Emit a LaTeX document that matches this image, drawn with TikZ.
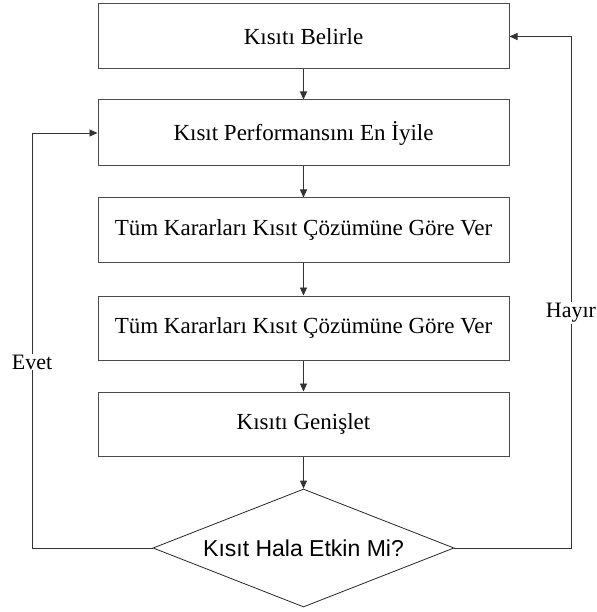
\documentclass[tikz,border=0pt]{standalone}
\usepackage{fontspec}
\setmainfont{Liberation Serif}
\newfontfamily\diafont{Liberation Sans}
\usetikzlibrary{shapes.geometric,arrows.meta}
\tikzset{
  stepbox/.style={draw=black!70, line width=1pt, minimum width=411pt,
    minimum height=64pt, inner sep=0pt, font=\fontsize{23}{27}\selectfont},
  decision/.style={diamond, draw=black!85, line width=0.8pt, aspect=2.55,
    minimum width=301pt, minimum height=118pt, inner sep=0pt,
    font=\diafont\fontsize{23}{27}\selectfont},
  flow/.style={draw=black!80, line width=0.9pt, -{Triangle[length=8pt,width=7pt]}},
  answer/.style={fill=white, inner sep=1pt, font=\fontsize{22}{26}\selectfont}
}
\begin{document}
\begin{tikzpicture}[x=1pt,y=-1pt]
      \useasboundingbox (0,0) rectangle (596,612);
      \draw
        (303.5,36.5) node[stepbox, minimum height=65pt] (belirle){Kısıtı Belirle}
        (303.5,133) node[stepbox, minimum height=66pt] (iyile){Kısıt Performansını En İyile}
        (303.5,230) node[stepbox] (karar1){Tüm Kararları Kısıt Çözümüne Göre Ver}
        (303.5,328) node[stepbox] (karar2){Tüm Kararları Kısıt Çözümüne Göre Ver}
        (303.5,424) node[stepbox] (genislet){Kısıtı Genişlet}
        (303.5,548) node[decision] (etkin){Kısıt Hala Etkin Mi?};
      \coordinate (evetc) at (32,548);
      \coordinate (hayirc) at (571,548);
      \begin{scope}[flow]
        \draw (belirle) to (iyile);
        \draw (iyile) to (karar1);
        \draw (karar1) to (karar2);
        \draw (karar2) to (genislet);
        \draw (genislet) to (etkin);
        \draw (etkin.west) -- (evetc) |- (iyile.west);
        \draw (etkin.east) -- (hayirc) |- (belirle.east);
      \end{scope}
      \node[answer] (evet) at (32,362) {Evet};
      \node[answer] (hayir) at (571,313) {Hayır};
    \end{tikzpicture}
\end{document}
